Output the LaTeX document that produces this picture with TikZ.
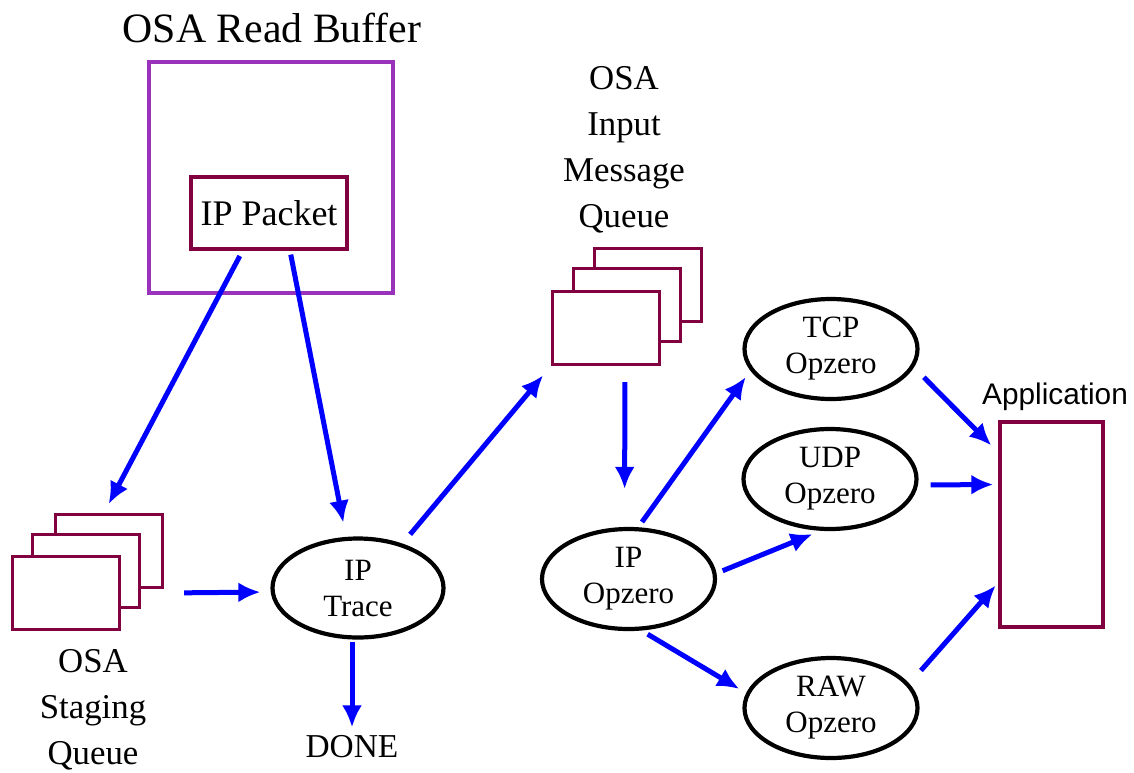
\documentclass[tikz,border=0pt]{standalone}
\usepackage{fontspec}
\setmainfont{Liberation Serif}
\newfontfamily\appsans{Liberation Sans}
\usepackage{tikz}
\usetikzlibrary{arrows.meta,shapes.geometric}
\usepackage{xcolor}
\definecolor{bufviolet}{RGB}{153,51,187}
\definecolor{qmaroon}{RGB}{128,0,64}

\begin{document}
\begin{tikzpicture}[x=0.5pt,y=-0.5pt,
  qbox/.style={draw=qmaroon, line width=1.7pt, fill=white, minimum width=53.5pt, minimum height=36.5pt, inner sep=0pt},
  opz/.style={draw, ellipse, line width=2.1pt, minimum width=86.5pt, minimum height=50pt, inner sep=0pt, align=center, font=\fontsize{15.5}{18}\selectfont},
  lbl/.style={align=center, font=\fontsize{17.4}{23}\selectfont},
  flow/.style={draw=blue, line width=2.5pt, -{Latex[length=11pt,width=10pt]}}]
\useasboundingbox (0,0) rectangle (1134,772);
\node[font=\fontsize{20.9}{25}\selectfont] (title) at (272,28) {OSA Read Buffer};
\node[draw=bufviolet, line width=1.6pt, minimum width=122pt, minimum height=115.5pt, inner sep=0pt] (buf) at (271,177.5) {};
\node[draw=qmaroon, line width=1.7pt, minimum width=78pt, minimum height=36pt, inner sep=0pt, font=\fontsize{18}{20}\selectfont] (pkt) at (269,213) {IP Packet};
\node[qbox] (stgc) at (109,551) {};
\node[qbox] (stgb) at (86,571) {};
\node[qbox] (stga) at (66,593) {};
\node[lbl] (stglbl) at (93,710) {OSA\\Staging\\Queue};
\node[qbox] (inqc) at (648,285) {};
\node[qbox] (inqb) at (627,305) {};
\node[qbox] (inqa) at (606,328) {};
\node[lbl] (inqlbl) at (624,150) {OSA\\Input\\Message\\Queue};
\node[opz, minimum width=85.5pt, minimum height=49.5pt] (trace) at (358,588) {IP\\Trace};
\node[lbl, font=\fontsize{16.7}{20}\selectfont, inner sep=1pt] (done) at (352,747) {DONE};
\node[opz] (ipopz) at (628.5,579) {IP\\Opzero};
\node[opz] (tcp) at (831,349) {TCP\\Opzero};
\node[opz] (udp) at (830,479) {UDP\\Opzero};
\node[opz] (raw) at (831,708) {RAW\\Opzero};
\node[draw=qmaroon, line width=1.7pt, minimum width=51.5pt, minimum height=102.5pt, inner sep=0pt] (app) at (1051.5,524.5) {};
\node[font=\appsans\fontsize{14.9}{17}\selectfont] (applbl) at (1055,397) {Application};
\draw[flow, shorten <=3pt, shorten >=5pt] (pkt.235) -- ([xshift=-2.5pt]stgc.north);
\draw[flow, shorten <=2pt, shorten >=7pt] ([xshift=10.5pt]pkt.south) -- ([xshift=-6pt]trace.north);
\draw[flow, shorten <=10pt, shorten >=5pt] (stga.east -| stgc.east) -- ([yshift=-2pt]trace.west);
\draw[flow, shorten <=6pt, shorten >=6pt] (trace.45) -- (inqa.south west);
\draw[flow, shorten <=1pt, shorten >=3pt] ([xshift=-3pt]trace.south) -- (done.north);
\draw[flow, shorten <=8pt, shorten >=19pt] ([xshift=9.5pt]inqa.south) -- ([xshift=-2pt]ipopz.north);
\draw[flow, shorten <=3pt, shorten >=4pt] ([xshift=5pt]ipopz.north) -- (tcp.195);
\draw[flow, shorten <=3pt, shorten >=4pt] ([yshift=3pt]ipopz.east) -- ([xshift=-5pt]udp.south);
\draw[flow, shorten <=3pt, shorten >=4pt] ([xshift=7pt]ipopz.south) -- (raw.170);
\draw[flow, shorten <=3pt, shorten >=5pt] ([yshift=-12pt]tcp.east) -- ([yshift=36pt]app.west);
\draw[flow, shorten <=6pt, shorten >=2.5pt] ([yshift=-3pt]udp.east) -- ([yshift=20pt]app.west);
\draw[flow, shorten <=1pt, shorten >=2pt] ([yshift=18pt]raw.east) -- ([yshift=-29pt]app.west);
\end{tikzpicture}
\end{document}
